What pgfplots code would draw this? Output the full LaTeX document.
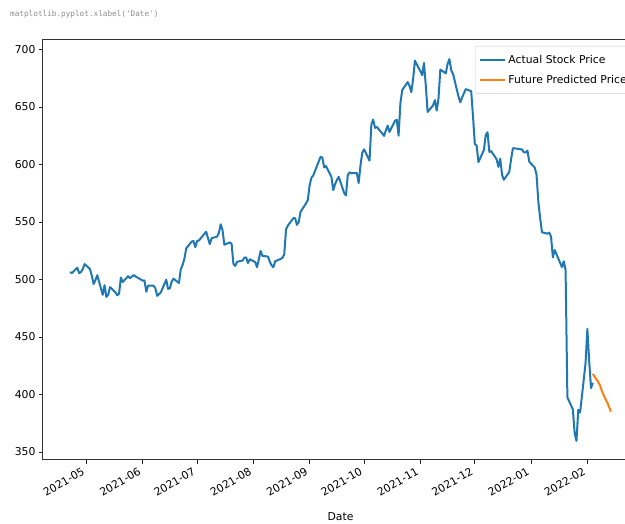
\documentclass[border=0pt]{standalone}
\usepackage{fontspec}
\setmainfont{DejaVu Sans}
\setmonofont{DejaVu Sans Mono}
\usepackage{pgfplots}
\pgfplotsset{compat=1.18}
\definecolor{mplblue}{HTML}{1F77B4}
\definecolor{mplorange}{HTML}{FF7F0E}
\begin{document}
\begin{tikzpicture}[x=1pt,y=1pt]
\begin{axis}[
  at={(43pt,64pt)}, anchor=south west,
  scale only axis, width=595pt, height=420pt,
  xmin=-23.9, xmax=303.9, ymin=343.1, ymax=708.3,
  xtick={0,31,61,92,123,153,184,214,245,276},
  xticklabels={2021-05,2021-06,2021-07,2021-08,2021-09,2021-10,2021-11,2021-12,2022-01,2022-02},
  ytick={350,400,450,500,550,600,650,700},
  xtick pos=lower, ytick pos=left,
  tick align=outside, major tick length=3.7pt,
  tick style={black!85, line width=0.9pt},
  axis line style={black!80, line width=1pt},
  font=\fontsize{10.8}{13}\selectfont,
  /pgf/number format/assume math mode=true,
  yticklabel style={inner sep=0pt, xshift=-3.7pt},
  xticklabel style={xshift=-5pt, yshift=-3.2pt, rotate=30, anchor=north east, inner sep=0pt},
  xlabel={Date},
  xlabel style={at={(axis description cs:0.5,0)}, anchor=north, yshift=-52pt, inner sep=0pt},
  legend style={at={(1,1)}, anchor=north east, xshift=-5pt, yshift=-6pt,
    draw=black!20, rounded corners=2pt, fill=white, fill opacity=0.8, text opacity=1,
    inner xsep=4pt, inner ysep=7pt, row sep=6pt, font=\fontsize{10.8}{13}\selectfont},
  legend cell align=left,
  legend image code/.code={\draw[#1] (0pt,0pt) -- (25pt,0pt);},
]
\addplot[mplblue, line width=2pt, line join=round] coordinates {
(-9,506.5) (-8,505.6) (-5,510.3) (-4,505.6) (-3,506.5) (-2,509.0) (-1,513.5)
(2,509.1) (3,503.2) (4,496.1) (5,499.6) (6,503.8) (9,486.7) (10,495.1) (11,485.0) (12,486.7) (13,493.4)
(16,488.9) (17,486.3) (18,487.7) (19,501.7) (20,497.9) (23,502.9) (24,501.3) (25,502.4) (26,503.9) (27,502.8)
(31,499.1) (32,499.2) (33,489.4) (34,494.7) (37,494.7) (38,492.4) (39,485.8) (40,487.3) (41,488.8)
(44,499.9) (45,491.9) (46,492.4) (47,498.3) (48,500.8) (51,497.0) (52,508.8) (53,512.7) (54,518.1) (55,527.1)
(58,533.0) (59,533.5) (60,528.2) (61,533.5) (62,534.0) (66,541.6) (67,536.0) (68,530.8) (69,536.0)
(72,537.3) (73,540.7) (74,548.0) (75,543.0) (76,530.3) (79,532.3) (80,531.1) (81,513.6) (82,511.8) (83,515.4)
(86,516.5) (87,518.9) (88,519.3) (89,514.3) (90,517.6) (93,515.2) (94,510.8) (95,517.4) (96,524.9) (97,520.6)
(100,520.0) (101,515.8) (102,512.4) (103,510.7) (104,515.9) (107,517.9) (108,518.9) (109,521.9) (110,543.7) (111,546.9)
(114,553.3) (115,553.4) (116,547.6) (117,550.1) (118,558.9) (121,566.2) (122,569.2) (123,582.1) (124,588.6) (125,590.5)
(129,606.7) (130,606.1) (131,597.5) (132,598.7) (135,589.3) (136,577.8) (137,582.9) (138,586.5) (139,589.4)
(142,575.4) (143,573.1) (144,590.7) (145,593.3) (146,592.4) (149,592.6) (150,583.9) (151,599.1) (152,610.3) (153,613.2)
(156,603.4) (157,634.8) (158,639.1) (159,631.9) (160,632.7) (163,627.0) (164,624.9) (165,629.8) (166,633.8) (167,628.3)
(170,638.0) (171,639.0) (172,625.1) (173,653.2) (174,664.8) (177,671.7) (178,668.5) (179,662.9) (180,674.1) (181,690.3)
(184,681.2) (185,677.7) (186,688.3) (187,668.4) (188,645.7) (191,651.5) (192,656.0) (193,646.9) (194,657.6) (195,682.6)
(198,679.3) (199,687.4) (200,691.7) (201,682.0) (202,678.8) (205,659.2) (206,654.1) (207,658.3) (209,665.6)
(212,663.8) (213,641.9) (214,617.8) (215,616.5) (216,602.1) (219,612.7) (220,625.6) (221,628.1) (222,611.0) (223,611.7)
(226,604.6) (227,598.0) (228,605.0) (229,591.1) (230,586.7) (233,593.7) (234,604.9) (235,614.2) (236,614.1)
(240,613.1) (241,610.7) (242,610.5) (243,612.1) (244,602.4) (247,597.4) (248,591.2) (249,567.5) (250,553.3) (251,541.1)
(254,539.9) (255,540.8) (256,537.2) (257,519.2) (258,525.7) (262,510.8) (263,515.9) (264,508.3) (265,397.5)
(268,387.2) (269,366.4) (270,359.7) (271,386.7) (272,384.4) (275,427.1) (276,457.1) (277,429.5) (278,405.6) (279,410.2)
};
\addlegendentry{Actual Stock Price}
\addplot[mplorange, line width=2pt, line join=round] coordinates {
(279,418.0) (280,415.5) (281,413.2) (282,411.0) (283,408.0) (284,403.0) (285,399.5) (286,396.0) (287,393.0) (288,389.0) (289,385.2)
};
\addlegendentry{Future Predicted Price}
\end{axis}
\node[anchor=west, text=black!45, inner sep=0pt, font=\ttfamily\fontsize{7.7}{9}\selectfont] at (10pt,510pt) {matplotlib.pyplot.xlabel('Date')};
\pgfresetboundingbox
\path[use as bounding box] (0pt,0pt) rectangle (625pt,524pt);
\end{tikzpicture}
\end{document}
